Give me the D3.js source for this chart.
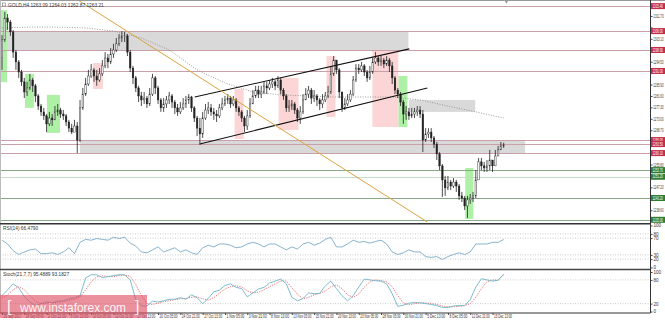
<!DOCTYPE html>
<html>
<head>
<meta charset="utf-8">
<script src="https://cdn.jsdelivr.net/npm/d3@7"></script>
<style>
  body { margin: 0; background: #fff; }
  svg { display: block; }
  text { font-family: "Liberation Sans", sans-serif; }
</style>
</head>
<body>
<div id="chart"></div>
<script>
// candles: one per 2 H4 bars, open = previous close
const firstOpen = 1296.0;
const closes = [
  1302.7,1310.9,1309.4,1305.7,1298.1,1294.4,1290.6,1286.9,1283.1,1284.6,
  1287.6,1285.4,1281.6,1277.8,1275.6,1274.1,1271.1,1273.3,1272.6,1275.6,
  1276.3,1274.8,1274.1,1271.8,1269.5,1268.0,1270.3,1265.0,1277.1,1282.3,
  1286.1,1289.1,1291.4,1289.1,1287.6,1289.9,1292.9,1295.9,1294.4,1297.4,
  1298.9,1301.2,1303.4,1304.2,1304.2,1298.1,1292.1,1288.4,1284.6,1281.6,
  1280.1,1280.8,1278.6,1282.3,1288.4,1284.6,1280.1,1277.1,1278.6,1280.1,
  1281.6,1279.3,1277.1,1275.6,1277.1,1278.6,1280.1,1281.2,1277.1,1273.3,
  1269.5,1267.3,1273.3,1276.3,1277.1,1275.6,1274.8,1274.1,1277.1,1278.6,
  1280.1,1280.8,1278.6,1280.1,1277.1,1275.6,1273.3,1270.3,1274.1,1278.6,
  1281.6,1283.8,1282.3,1283.1,1285.4,1284.6,1286.1,1286.9,1285.4,1287.6,
  1283.8,1281.6,1277.1,1277.8,1278.6,1276.3,1273.3,1275.6,1280.1,1282.3,
  1283.8,1280.8,1281.6,1280.1,1278.6,1280.1,1281.6,1283.1,1289.9,1295.1,
  1291.4,1283.1,1277.1,1278.6,1280.1,1282.3,1287.6,1292.1,1291.4,1292.9,
  1290.6,1288.4,1290.6,1294.4,1295.9,1294.4,1295.1,1293.6,1295.1,1292.9,
  1288.4,1283.8,1282.3,1279.3,1274.8,1275.6,1274.1,1274.8,1275.6,1276.3,
  1274.8,1265.0,1267.3,1268.0,1265.8,1263.5,1259.8,1255.3,1250.0,1247.0,
  1249.2,1247.7,1249.2,1247.7,1244.0,1243.2,1240.2,1242.5,1243.2,1244.0,
  1250.0,1256.8,1255.3,1254.5,1255.3,1257.5,1255.3,1259.0,1261.3,1262.8,
  1263.2
];
const highs = [
  1304.5,1313.2,1312.4,1310.2,1306.4,1298.9,1295.1,1291.4,1288.4,1286.9,
  1289.9,1288.4,1286.1,1282.3,1278.6,1277.1,1274.8,1275.6,1274.8,1277.8,
  1278.6,1277.1,1276.3,1274.8,1272.6,1271.1,1272.6,1271.8,1280.1,1284.6,
  1288.4,1291.4,1293.6,1292.1,1291.4,1292.1,1295.1,1298.1,1297.4,1299.6,
  1301.2,1303.4,1304.9,1306.0,1305.7,1304.9,1298.9,1292.9,1289.1,1285.4,
  1283.1,1283.1,1281.6,1284.6,1289.9,1289.1,1285.4,1280.8,1280.8,1281.6,
  1283.1,1282.3,1280.1,1278.6,1279.3,1280.8,1281.6,1282.3,1281.6,1277.8,
  1274.1,1273.3,1275.6,1278.6,1279.3,1278.6,1277.1,1276.3,1278.6,1280.8,
  1281.6,1282.3,1281.6,1281.6,1280.8,1277.8,1276.3,1274.1,1276.3,1280.8,
  1283.8,1285.4,1285.4,1285.4,1286.9,1286.9,1287.6,1288.4,1287.6,1289.1,
  1288.4,1284.6,1282.3,1280.1,1280.1,1279.3,1277.1,1277.8,1282.3,1284.6,
  1285.4,1284.6,1283.8,1282.3,1280.8,1282.3,1283.1,1285.4,1292.9,1296.6,
  1295.1,1292.1,1283.1,1280.8,1282.3,1283.8,1289.1,1293.6,1293.6,1294.4,
  1293.6,1291.4,1292.9,1295.9,1298.1,1296.6,1296.6,1295.9,1296.6,1295.9,
  1294.4,1289.1,1284.6,1283.1,1280.1,1277.8,1277.1,1277.1,1277.1,1277.8,
  1277.8,1276.3,1269.5,1269.5,1269.5,1266.5,1264.3,1260.5,1256.0,1251.5,
  1251.5,1250.0,1250.7,1250.0,1248.5,1245.5,1244.0,1244.0,1244.7,1245.5,
  1253.7,1258.3,1258.3,1256.8,1257.5,1261.3,1257.5,1261.3,1262.8,1264.3,
  1264.0
];
const lows = [
  1291.4,1301.9,1306.4,1304.2,1295.9,1291.4,1288.4,1285.4,1280.8,1281.6,
  1283.8,1283.1,1279.3,1276.3,1274.1,1272.6,1268.0,1270.3,1270.3,1272.6,
  1274.1,1273.3,1272.6,1270.3,1268.0,1267.3,1268.0,1260.1,1264.3,1276.3,
  1281.6,1285.4,1288.4,1286.9,1285.4,1286.9,1289.1,1292.1,1292.1,1293.6,
  1295.9,1298.1,1300.4,1301.9,1301.9,1296.6,1290.6,1286.1,1283.1,1279.3,
  1277.8,1278.6,1277.1,1277.8,1281.6,1282.3,1278.6,1275.6,1275.6,1277.1,
  1278.6,1277.1,1274.8,1274.1,1274.8,1276.3,1277.1,1278.6,1275.6,1271.8,
  1266.5,1263.2,1265.8,1272.6,1274.8,1274.1,1272.6,1271.8,1273.3,1276.3,
  1277.8,1278.6,1277.1,1277.8,1275.6,1274.1,1271.8,1268.0,1268.8,1273.3,
  1278.6,1280.8,1280.8,1280.8,1282.3,1282.3,1283.8,1284.6,1283.8,1284.6,
  1282.3,1280.1,1275.6,1275.6,1276.3,1274.8,1271.8,1271.1,1274.8,1280.1,
  1280.8,1278.6,1279.3,1277.8,1276.3,1277.1,1279.3,1280.8,1282.3,1289.1,
  1289.9,1280.8,1275.6,1276.3,1277.8,1279.3,1281.6,1286.9,1289.9,1290.6,
  1289.1,1286.9,1287.6,1289.9,1293.6,1292.9,1292.9,1292.1,1292.9,1290.6,
  1286.1,1282.3,1280.8,1277.8,1271.1,1272.6,1272.6,1273.3,1273.3,1274.1,
  1273.3,1260.5,1264.3,1265.8,1264.3,1262.0,1257.5,1253.7,1243.6,1244.0,
  1246.2,1246.2,1247.0,1245.5,1242.5,1241.7,1238.7,1235.7,1241.0,1241.7,
  1243.2,1251.5,1253.7,1253.0,1253.0,1253.7,1253.0,1255.3,1259.0,1261.3,
  1262.0
];

// moving average, one value every 20 H4 bars
const maValues = [1307.2,1307.5,1307.5,1307.2,1306.0,1303.4,1298.9,1291.4,1286.5,1283.1,
  1282.0,1281.6,1281.2,1281.2,1281.2,1280.1,1277.8,1275.6,1273.3];

// oscillators, one value every 4 H4 bars
const rsiValues = [65,56,40,31,37,42,44,33,33,35, 31,37,47,33,60,67,65,69,67,65,
  72,69,72,58,51,37,35,42,49,37, 42,47,37,42,35,31,47,53,49,56,
  56,53,47,49,56,60,56,49,56,56, 49,42,49,44,56,60,53,58,67,72,
  49,49,56,65,60,62,58,62,65,56, 37,31,35,42,37,37,26,24,26,19,
  26,31,35,31,37,56,56,56,60,60, 66.5];
const stochMain = [40,55,70,60,38,24,15,20,24,22, 26,27,32,35,40,85,93,93,86,88,
  91,93,93,80,30,14,14,26,24,27, 31,31,35,31,42,35,20,33,50,54,
  66,70,61,58,37,47,57,61,72,77, 82,70,36,27,33,47,45,46,65,77,
  58,40,27,40,62,82,80,78,77,70, 45,13,16,21,23,22,20,18,15,10,
  10,14,15,15,30,62,83,80,77,79, 95];
const stochSignal = [35,42,55,63,55,40,26,20,20,22, 24,25,28,31,37,55,75,88,90,89,
  88,91,92,89,68,40,20,18,21,25, 27,30,32,33,36,37,32,29,35,46,
  57,63,65,62,52,47,49,55,63,70, 77,77,60,44,32,36,42,46,52,63,
  67,58,42,36,44,62,75,80,78,75, 63,40,22,17,20,22,22,20,18,14,
  12,12,13,15,20,36,58,75,80,79, 93];

// time labels every 16 H4 bars
const timeLabels = ["25 Sep 2017","28 Sep 05:00","2 Oct 21:00","5 Oct 13:00","10 Oct 05:00",
  "12 Oct 21:00","17 Oct 13:00","20 Oct 05:00","24 Oct 21:00","27 Oct 13:00","1 Nov 05:00",
  "3 Nov 21:00","8 Nov 13:00","13 Nov 05:00","15 Nov 21:00","20 Nov 13:00","23 Nov 05:00",
  "28 Nov 05:00","30 Nov 21:00","5 Dec 13:00","8 Dec 05:00","12 Dec 21:00","15 Dec 13:00"];

const priceTicks = [1238.60,1242.90,1247.20,1251.50,1255.80,1260.10,1264.40,1268.70,1273.00,
  1277.30,1281.60,1285.90,1290.20,1294.50,1298.80,1303.10,1307.40,1311.70];

const resistLevels = [1315.4,1306.0,1298.9,1291.0,1265.0,1263.5,1260.1];
const supportLevels = [1253.7,1251.2,1243.2,1235.0];

// [bar from, bar to, price top, price bottom]
const grayZones = [[0,291.6,1306.0,1298.9],[55.9,375.4,1265.0,1260.1],[292,339.6,1280.1,1275.6]];
const greenBoxes = [[-1.4,3.6,1313.9,1286.8],[16.5,22.9,1289.9,1277.1],[32.2,41.6,1282.0,1267.7],
  [284.4,290.9,1289.1,1269.9],[332.4,338.2,1254.5,1235.3]];
const pinkBoxes = [[65.2,72.4,1294.0,1284.2],[166.9,173.4,1284.2,1265.4],[198.5,212.8,1288.4,1268.8],
  [232.9,239.3,1296.6,1273.7],[265.8,284.4,1298.9,1269.9]];

// [bar, price] end points
const orangeLine = [[54.5,1317.7],[305.2,1234.2]];
const channelUpper = [[138.3,1281.2],[292.3,1299.3]];
const channelLower = [[141.9,1263.5],[305.2,1284.6]];

const width = 665, height = 321;
const axisX = 650.5;

const svg = d3.select("#chart").append("svg")
  .attr("width", width).attr("height", height);

svg.append("rect").attr("width", width).attr("height", height).attr("fill", "#fff");

const x = d3.scaleLinear().domain([0, 465]).range([2, 650]);
const yMain = d3.scaleLinear().domain([1233.8, 1317.7]).range([223, 0]);
const yRsi = d3.scaleLinear().domain([0, 100]).range([267.5, 225.5]);
const yStoch = d3.scaleLinear().domain([0, 100]).range([311.5, 272]);

svg.append("clipPath").attr("id", "clipMain")
  .append("rect").attr("x", 0).attr("y", 0).attr("width", axisX).attr("height", 223);

const main = svg.append("g").attr("clip-path", "url(#clipMain)");

const boxRect = (sel) => sel
  .attr("x", d => x(d[0]))
  .attr("y", d => yMain(d[2]))
  .attr("width", d => x(d[1]) - x(d[0]))
  .attr("height", d => yMain(d[3]) - yMain(d[2]));

main.selectAll(".zone").data(grayZones).enter().append("rect")
  .call(boxRect).attr("fill", "#d9d9d9");
main.selectAll(".gbox").data(greenBoxes).enter().append("rect")
  .call(boxRect).attr("fill", "#aef0a6");
main.selectAll(".pbox").data(pinkBoxes).enter().append("rect")
  .call(boxRect).attr("fill", "#fcd6d6");

// level lines
main.selectAll(".rline").data(resistLevels).enter().append("line")
  .attr("x1", 0).attr("x2", axisX)
  .attr("y1", d => Math.round(yMain(d)) + 0.5).attr("y2", d => Math.round(yMain(d)) + 0.5)
  .attr("stroke", "#c9a0a8").attr("stroke-width", 1);
main.selectAll(".sline").data(supportLevels).enter().append("line")
  .attr("x1", 0).attr("x2", axisX)
  .attr("y1", d => Math.round(yMain(d)) + 0.5).attr("y2", d => Math.round(yMain(d)) + 0.5)
  .attr("stroke", (d, i) => i === 1 ? "#c6dcc6" : "#88a888").attr("stroke-width", 1);

// moving average
main.append("path")
  .datum(maValues)
  .attr("d", d3.line().x((d, i) => x(i * 20)).y(d => yMain(d)))
  .attr("fill", "none").attr("stroke", "#888").attr("stroke-width", 0.8)
  .attr("stroke-dasharray", "1,1.5");

// candles
const candles = closes.map((c, i) => ({
  bar: i * 2,
  open: i === 0 ? firstOpen : closes[i - 1],
  close: c, high: highs[i], low: lows[i]
}));

const cg = main.selectAll(".candle").data(candles).enter().append("g");
cg.append("line")
  .attr("x1", d => x(d.bar)).attr("x2", d => x(d.bar))
  .attr("y1", d => yMain(Math.max(d.high, d.open, d.close)))
  .attr("y2", d => yMain(Math.min(d.low, d.open, d.close)))
  .attr("stroke", "#222").attr("stroke-width", 0.8);
cg.append("rect")
  .attr("x", d => x(d.bar) - 0.8)
  .attr("width", 1.6)
  .attr("y", d => yMain(Math.max(d.open, d.close)))
  .attr("height", d => Math.max(0.6, Math.abs(yMain(d.open) - yMain(d.close))))
  .attr("fill", d => d.close >= d.open ? "#f4f4f4" : "#222")
  .attr("stroke", "#222").attr("stroke-width", 0.4);

// trend lines
const seg = d3.line().x(d => x(d[0])).y(d => yMain(d[1]));
main.append("path").datum(channelUpper).attr("d", seg)
  .attr("stroke", "#111").attr("stroke-width", 1.1).attr("fill", "none");
main.append("path").datum(channelLower).attr("d", seg)
  .attr("stroke", "#111").attr("stroke-width", 1.1).attr("fill", "none");
main.append("path").datum(orangeLine).attr("d", seg)
  .attr("stroke", "#d9a441").attr("stroke-width", 1).attr("fill", "none");

// RSI panel
const rsiG = svg.append("g");
rsiG.selectAll(".lvl").data([80, 70, 30, 20]).enter().append("line")
  .attr("x1", 0).attr("x2", axisX)
  .attr("y1", d => yRsi(d)).attr("y2", d => yRsi(d))
  .attr("stroke", "#b8b8b8").attr("stroke-width", 0.7).attr("stroke-dasharray", "1,1.5");
rsiG.append("path").datum(rsiValues)
  .attr("d", d3.line().x((d, i) => x(i * 4)).y(d => yRsi(d)))
  .attr("fill", "none").attr("stroke", "#7aa9c8").attr("stroke-width", 0.9);

// Stochastic panel
const stG = svg.append("g");
stG.selectAll(".lvl").data([80, 20]).enter().append("line")
  .attr("x1", 0).attr("x2", axisX)
  .attr("y1", d => yStoch(d)).attr("y2", d => yStoch(d))
  .attr("stroke", "#b8b8b8").attr("stroke-width", 0.7).attr("stroke-dasharray", "1,1.5");
stG.append("path").datum(stochSignal)
  .attr("d", d3.line().x((d, i) => x(i * 4)).y(d => yStoch(d)))
  .attr("fill", "none").attr("stroke", "#e06868").attr("stroke-width", 0.9)
  .attr("stroke-dasharray", "1.2,1.2");
stG.append("path").datum(stochMain)
  .attr("d", d3.line().x((d, i) => x(i * 4)).y(d => yStoch(d)))
  .attr("fill", "none").attr("stroke", "#6fb4c8").attr("stroke-width", 0.9);

// frames and separators
svg.append("line").attr("x1", 0).attr("x2", width).attr("y1", 0.5).attr("y2", 0.5)
  .attr("stroke", "#999");
svg.append("line").attr("x1", 0.5).attr("x2", 0.5).attr("y1", 0).attr("y2", 313)
  .attr("stroke", "#bbb");
svg.append("line").attr("x1", 0).attr("x2", axisX).attr("y1", 223.8).attr("y2", 223.8)
  .attr("stroke", "#333").attr("stroke-width", 1.6);
svg.append("line").attr("x1", 0).attr("x2", axisX).attr("y1", 269.5).attr("y2", 269.5)
  .attr("stroke", "#444").attr("stroke-width", 1.4);

// shift marker
svg.append("path").attr("d", d3.symbol().type(d3.symbolTriangle).size(6)())
  .attr("transform", `translate(${x(362)},1.5) rotate(180)`).attr("fill", "#999");

const styleAxis = (g) => {
  g.selectAll("text").attr("font-size", "4.6px").attr("fill", "#333");
  g.selectAll("line").attr("stroke", "#444");
  g.select(".domain").attr("stroke", "#333");
};

// price axis; labels hidden where a coloured tag sits on top of them
const allLevels = resistLevels.concat(supportLevels);
svg.append("g").attr("transform", `translate(${axisX},0)`)
  .call(d3.axisRight(yMain).tickValues(priceTicks).tickSize(2).tickPadding(0.8)
    .tickFormat(d3.format(".2f")))
  .call(styleAxis)
  .call(g => g.select(".domain").attr("d", "M0,0V313"))
  .call(g => g.selectAll("text")
    .attr("textLength", 10.2).attr("lengthAdjust", "spacingAndGlyphs")
    .style("display", d => allLevels.some(l => Math.abs(yMain(l) - yMain(d)) < 4) ? "none" : null));

svg.append("g").attr("transform", `translate(${axisX},0)`)
  .call(d3.axisRight(yRsi).tickValues([100, 80, 70, 30, 20, 0]).tickSize(2).tickPadding(1))
  .call(styleAxis).call(g => g.select(".domain").remove());
svg.append("g").attr("transform", `translate(${axisX},0)`)
  .call(d3.axisRight(yStoch).tickValues([100, 80, 20, 0]).tickSize(2).tickPadding(1))
  .call(styleAxis).call(g => g.select(".domain").remove());

const xAxis = svg.append("g").attr("transform", "translate(0,313)")
  .call(d3.axisBottom(x).tickValues(timeLabels.map((t, i) => i * 16)).tickSize(2).tickPadding(0)
    .tickFormat((d, i) => timeLabels[i]))
  .call(styleAxis);
xAxis.selectAll("text").attr("text-anchor", "start").attr("x", 1)
  .attr("textLength", 18).attr("lengthAdjust", "spacingAndGlyphs");
xAxis.select(".domain").attr("d", `M0,0H${axisX}`);

// coloured price labels on the axis
const tagG = svg.append("g");
const tag = (levels, color) => {
  const t = tagG.selectAll(null).data(levels).enter().append("g")
    .attr("transform", d => `translate(${axisX + 0.5},${yMain(d)})`);
  t.append("rect").attr("x", 0).attr("y", -3).attr("width", 14).attr("height", 6)
    .attr("fill", color);
  t.append("text").attr("x", 1.4).attr("y", 1.7).attr("font-size", "4.6px").attr("fill", "#fff")
    .attr("textLength", 10.6).attr("lengthAdjust", "spacingAndGlyphs")
    .text(d => d.toFixed(2));
};
tag(resistLevels, "#c72c48");
tag(supportLevels, "#2f7d32");

// titles
svg.append("rect").attr("x", 2.5).attr("y", 3).attr("width", 3).attr("height", 3)
  .attr("fill", "none").attr("stroke", "#777").attr("stroke-width", 0.6);
svg.append("text").attr("x", 8).attr("y", 6.8).attr("font-size", "4.8px").attr("fill", "#333")
  .text("GOLD,H4  1263.09 1264.03 1262.87 1263.21");
svg.append("text").attr("x", 3).attr("y", 230).attr("font-size", "4.8px").attr("fill", "#333")
  .text("RSI(14) 66.4790");
svg.append("text").attr("x", 3).attr("y", 275.5).attr("font-size", "4.8px").attr("fill", "#333")
  .text("Stoch(21,7,7) 95.4889 93.1827");

// watermark
const wm = svg.append("g");
wm.append("rect").attr("x", 0).attr("y", 295).attr("width", 147).attr("height", 23)
  .attr("fill", "rgba(222,70,92,0.6)");
wm.append("text").attr("x", 7).attr("y", 312).attr("font-size", "16px")
  .attr("fill", "rgba(255,255,255,0.9)")
  .text("[");
wm.append("text").attr("x", 20).attr("y", 312).attr("font-size", "13.5px")
  .attr("textLength", 106).attr("lengthAdjust", "spacingAndGlyphs")
  .attr("fill", "rgba(255,255,255,0.92)")
  .text("www.instaforex.com");
wm.append("text").attr("x", 135).attr("y", 312).attr("font-size", "16px")
  .attr("fill", "rgba(255,255,255,0.9)")
  .text("]");
</script>
</body>
</html>
